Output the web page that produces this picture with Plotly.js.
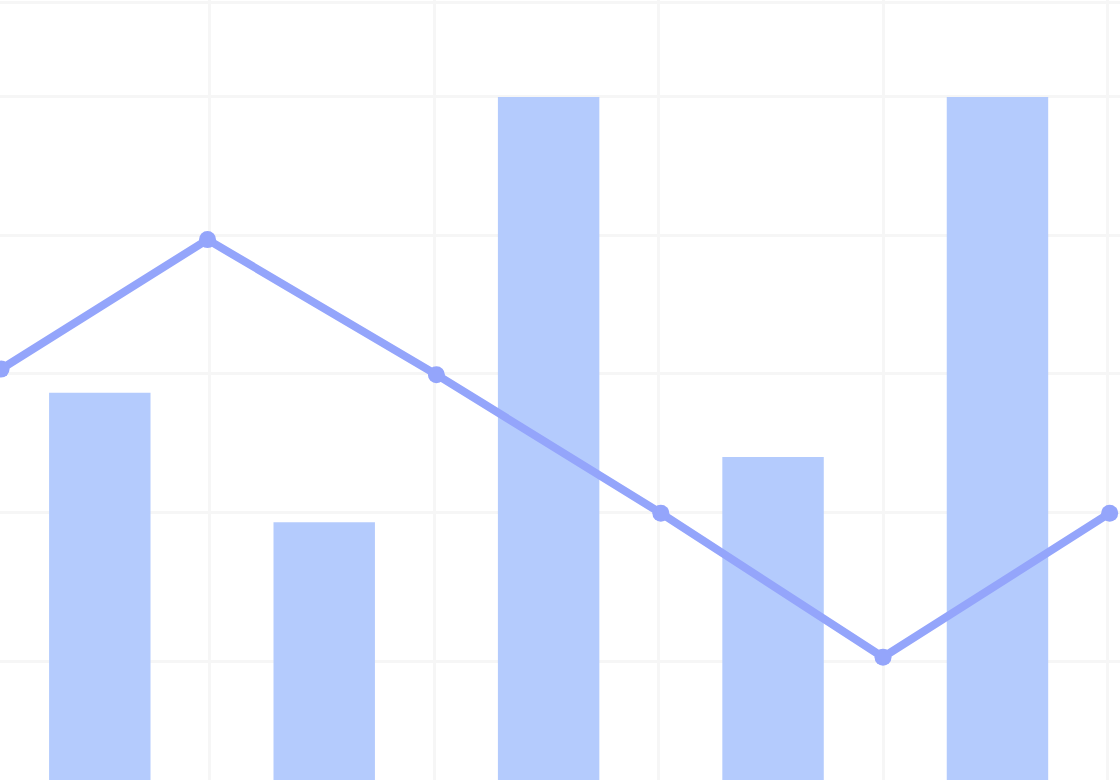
<!DOCTYPE html>
<html>
<head>
<meta charset="utf-8">
<script src="https://cdn.plot.ly/plotly-3.0.1.min.js"></script>
<style>
  html, body { margin: 0; padding: 0; background: #ffffff; }
  #chart { width: 1120px; height: 780px; }
</style>
</head>
<body>
<div id="chart"></div>
<script>
// Category positions of the bars and their values
const categories = [0, 1, 2, 3, 4];
const barValues = [57.3, 38.6, 100, 48.0, 100];

// Line series (points sit between the categories)
const linePositions = [-0.44, 0.48, 1.5, 2.5, 3.49, 4.5];
const lineValues = [60.7, 79.4, 59.9, 39.9, 19.1, 39.9];

// Grid positions
const xGrid = [0.49, 1.49, 2.49, 3.49, 4.49];
const yGrid = [18.55, 40, 60, 80, 100, 113.7];

const barTrace = {
  type: 'bar',
  x: categories,
  y: barValues,
  width: 0.452,
  marker: { color: 'rgb(180,203,253)', line: { width: 0 } },
  hoverinfo: 'skip'
};

const lineTrace = {
  type: 'scatter',
  mode: 'lines+markers',
  x: linePositions,
  y: lineValues,
  line: { color: 'rgb(148,165,251)', width: 8 },
  marker: { color: 'rgb(148,165,251)', size: 17 },
  hoverinfo: 'skip'
};

const layout = {
  width: 1120,
  height: 780,
  margin: { l: 0, r: 0, t: 0, b: 0, pad: 0 },
  paper_bgcolor: '#ffffff',
  plot_bgcolor: '#ffffff',
  showlegend: false,
  xaxis: {
    type: 'linear',
    range: [-0.4447, 4.546],
    tickvals: xGrid,
    showticklabels: false,
    ticks: '',
    showgrid: true,
    gridcolor: '#f6f6f6',
    gridwidth: 3,
    zeroline: false,
    showline: false
  },
  yaxis: {
    type: 'linear',
    range: [1.37, 114.0],
    tickvals: yGrid,
    showticklabels: false,
    ticks: '',
    showgrid: true,
    gridcolor: '#f6f6f6',
    gridwidth: 3,
    zeroline: false,
    showline: false
  }
};

Plotly.newPlot('chart', [barTrace, lineTrace], layout, { displayModeBar: false, staticPlot: true });
</script>
</body>
</html>
